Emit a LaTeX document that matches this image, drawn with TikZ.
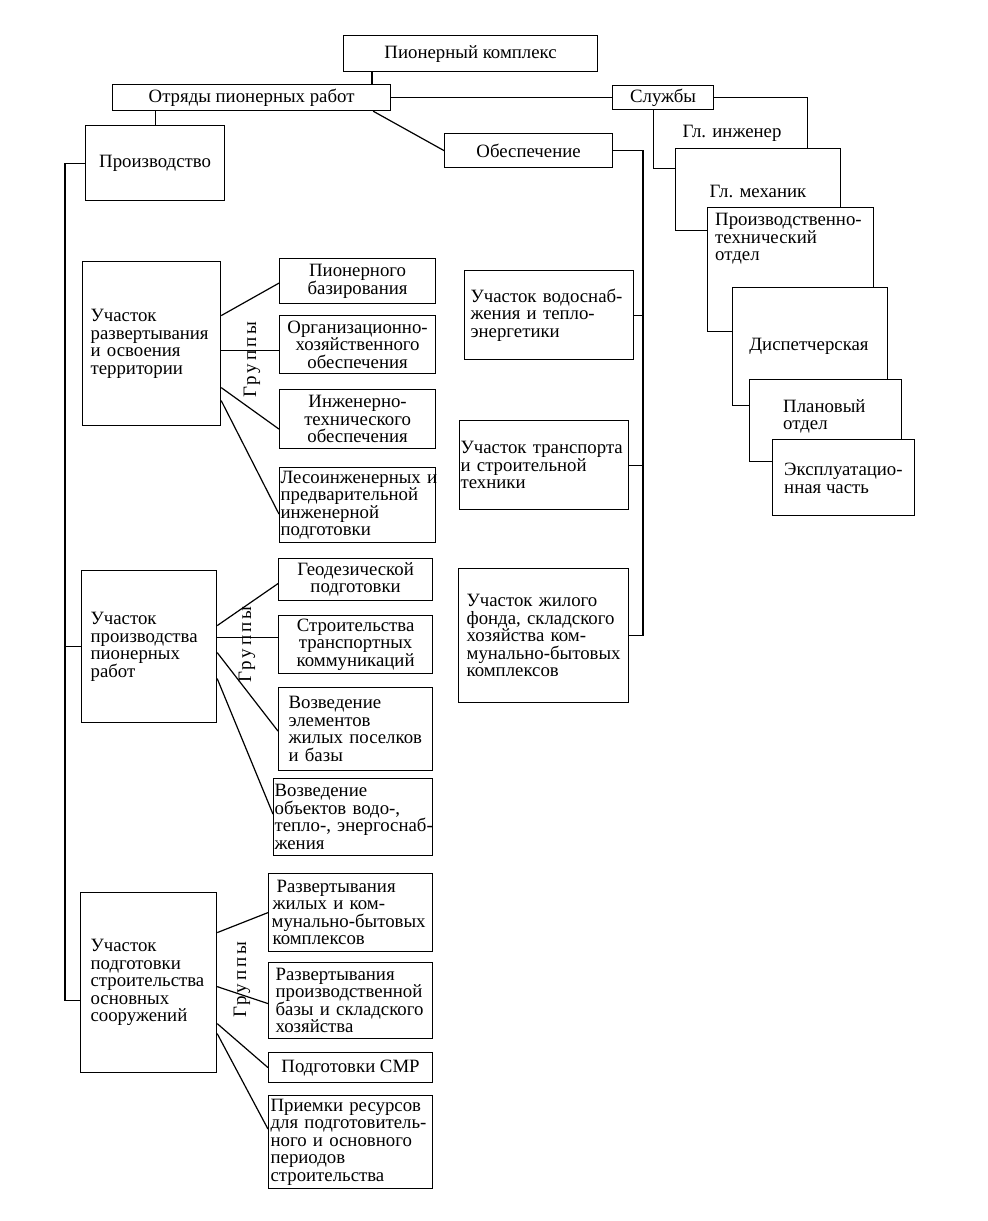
\documentclass[tikz,border=0pt]{standalone}
\usepackage{fontspec}
\setmainfont{Liberation Serif}
\newfontfamily\spacedfont[LetterSpace=15]{Liberation Serif}
\usetikzlibrary{calc}
\hyphenpenalty=10000
\exhyphenpenalty=10000
\tikzset{
  base/.style={font=\fontsize{18.8}{17.5}\selectfont},
  box/.style={base, draw, fill=white, line width=1.2pt, inner sep=0pt, anchor=north west, align=center},
  lbox/.style={box, align=left},
  txt/.style={base, inner sep=0pt, align=left},
  conn/.style={line width=1.2pt},
  grp/.style={rotate=90, inner sep=0pt, font=\spacedfont\fontsize{19}{18}\selectfont},
}
\begin{document}
\begin{tikzpicture}[x=1pt,y=-1pt]
\useasboundingbox (0,0) rectangle (988,1221);
\coordinate (lt) at (65,0);
\coordinate (ot) at (643,0);

% top level
\node[box, minimum width=254pt, minimum height=36pt] (kompl) at (343,35) {Пионерный комплекс};
\node[box, minimum width=278pt, minimum height=26pt] (otr) at (112,84) {Отряды пионерных работ};
\node[box, minimum width=139pt, minimum height=75pt] (proizv) at (85,125) {Производство};
\node[box, minimum width=168pt, minimum height=34pt] (obesp) at (444,133) {Обеспечение};

% services cascade
\node[box, minimum width=154pt, minimum height=71pt] (ing) at (653,97) {};
\node[box, minimum width=101pt, minimum height=24pt] (sluzh) at (612,85) {Службы};
\node[box, minimum width=165pt, minimum height=82pt] (mech) at (675,148) {};
\node[box, minimum width=166pt, minimum height=124pt] (pto) at (707,207) {};
\node[box, minimum width=155pt, minimum height=118pt] (disp) at (732,287) {};
\node[box, minimum width=152pt, minimum height=82pt] (plan) at (749,379) {};
\node[box, minimum width=142pt, minimum height=76pt] (expl) at (772,439) {};
\node[txt] (ingT) at (732,133) {Гл. инженер};
\node[txt] (mechT) at (758,191) {Гл. механик};
\node[txt, anchor=west] (ptoT) at (715,239) {Производственно-\\технический\\отдел};
\node[txt] (dispT) at (809,346) {Диспетчерская};
\node[txt, anchor=west] (planT) at (783,416.5) {Плановый\\отдел};
\node[txt, anchor=west] (explT) at (784,478.5) {Эксплуатацио-\\нная часть};

% production sections
\node[lbox, minimum width=138pt, minimum height=164pt, text width=122pt, inner xsep=8pt] (uch1) at (82,261) {Участок\\развертывания\\и~освоения\\территории};
\node[box, minimum width=156pt, minimum height=45pt] (g1a) at (279,258) {Пионерного\\базирования};
\node[box, minimum width=156pt, minimum height=58pt] (g1b) at (279,315) {Организационно-\\хозяйственного\\обеспечения};
\node[box, minimum width=156pt, minimum height=59pt] (g1c) at (279,389) {Инженерно-\\технического\\обеспечения};
\node[lbox, minimum width=156pt, minimum height=75pt, text width=154pt, inner xsep=1pt] (g1d) at (279,467) {Лесоинженерных~и\\предварительной\\инженерной\\подготовки};

\node[lbox, minimum width=135pt, minimum height=152pt, text width=117pt, inner xsep=9pt] (uch2) at (81,570) {Участок\\производства\\пионерных\\работ};
\node[box, minimum width=154pt, minimum height=42pt] (g2a) at (278,558) {Геодезической\\подготовки};
\node[box, minimum width=154pt, minimum height=58pt] (g2b) at (278,615) {Строительства\\транспортных\\коммуникаций};
\node[lbox, minimum width=154pt, minimum height=83pt, text width=134pt, inner xsep=10pt] (g2c) at (278,687) {Возведение\\элементов\\жилых~поселков\\и~базы};
\node[lbox, minimum width=159pt, minimum height=77pt, text width=157pt, inner xsep=1pt] (g2d) at (273,778) {Возведение\\объектов~водо-,\\тепло-,~энергоснаб-\\жения};

\node[lbox, minimum width=136pt, minimum height=180pt, text width=116pt, inner xsep=10pt] (uch3) at (80,892) {Участок\\подготовки\\строительства\\основных\\сооружений};
\node[lbox, minimum width=164pt, minimum height=78pt, text width=158pt, inner xsep=3pt] (g3a) at (268,873) {\hspace*{5pt}Развертывания\\\hspace*{1pt}жилых~и~ком-\\мунально-бытовых\\\hspace*{1pt}комплексов};
\node[lbox, minimum width=164pt, minimum height=76pt, text width=150pt, inner xsep=7pt] (g3b) at (268,962) {Развертывания\\производственной\\базы~и~складского\\хозяйства};
\node[box, minimum width=164pt, minimum height=30pt] (g3c) at (268,1052) {Подготовки СМР};
\node[lbox, minimum width=164pt, minimum height=93pt, text width=160pt, inner xsep=2pt] (g3d) at (268,1095) {Приемки~ресурсов\\для~подготовитель-\\ного~и~основного\\периодов\\строительства};

% support sections
\node[lbox, minimum width=169pt, minimum height=89pt, text width=157pt, inner xsep=6pt] (ob1) at (464,270) {Участок~водоснаб-\\жения~и~тепло-\\энергетики};
\node[lbox, minimum width=169pt, minimum height=89pt, text width=167pt, inner xsep=1pt] (ob2) at (459,420) {Участок~транспорта\\и~строительной\\техники};
\node[lbox, minimum width=170pt, minimum height=134pt, text width=154pt, inner xsep=8pt] (ob3) at (458,568) {Участок~жилого\\фонда,~складского\\хозяйства~ком-\\мунально-бытовых\\комплексов};

% group labels
\node[grp] (gr1) at (252,360) {Группы};
\node[grp] (gr2) at (247,645) {Группы};
\node[grp] (gr3) at (242,980) {Группы};

% helper coordinates on box edges
\coordinate (u3c) at ($(uch3.west)+(0,18)$);
\coordinate (u1b) at ($(uch1.east)+(0,7)$);
\coordinate (u2b) at ($(uch2.east)+(0,-9)$);

% connectors: top
\draw[conn] ([xshift=29pt]kompl.south west) -- ([xshift=29pt]kompl.south west |- otr.north);
\draw[conn] (proizv.north |- otr.south) -- (proizv.north);
\draw[conn] (otr.east) -- (sluzh.west);
\draw[conn] ([xshift=-18pt]otr.south east) -- (obesp.west);

% support trunk
\draw[conn] (obesp.east) -- (obesp.east -| ot) -- (ob3.east -| ot) -- (ob3.east);
\draw[conn] (ob1.east) -- (ob1.east -| ot);
\draw[conn] (ob2.east) -- (ob2.east -| ot);

% production trunk
\draw[conn] (proizv.west) -- (proizv.west -| lt) -- (u3c -| lt) -- (u3c);
\draw[conn] (uch2.west) -- (uch2.west -| lt);

% groups of section 1
\draw[conn] ($(uch1.east)+(0,-28)$) -- ($(g1a.west)+(0,2)$);
\draw[conn] (u1b) -- (u1b -| g1b.west);
\draw[conn] ($(uch1.east)+(0,44)$) -- ($(g1c.west)+(0,10)$);
\draw[conn] ($(uch1.east)+(0,57)$) -- ($(g1d.west)+(0,9)$);

% groups of section 2
\draw[conn] ($(uch2.east)+(0,-21)$) -- ($(g2a.west)+(0,4)$);
\draw[conn] (u2b) -- (u2b -| g2b.west);
\draw[conn] ($(uch2.east)+(0,6)$) -- ($(g2c.west)+(0,2)$);
\draw[conn] ($(uch2.east)+(0,32)$) -- ($(g2d.west)+(0,-3)$);

% groups of section 3
\draw[conn] ($(uch3.east)+(0,-50)$) -- (g3a.west);
\draw[conn] ($(uch3.east)+(0,4)$) -- ($(g3b.west)+(0,3)$);
\draw[conn] ($(uch3.east)+(0,41)$) -- (g3c.west);
\draw[conn] ($(uch3.east)+(0,51)$) -- ($(g3d.west)+(0,-13)$);
\end{tikzpicture}
\end{document}
